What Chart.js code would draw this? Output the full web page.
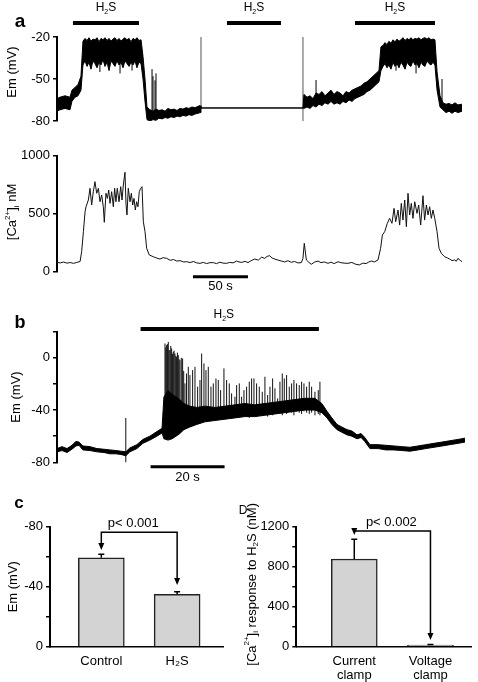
<!DOCTYPE html>
<html>
<head>
<meta charset="utf-8">
<script src="https://cdn.jsdelivr.net/npm/chart.js@4.4.0/dist/chart.umd.min.js"></script>
<style>
body { margin: 0; background: #fff; width: 478px; height: 682px; position: relative; overflow: hidden; }
canvas { position: absolute; }
</style>
</head>
<body>
<canvas id="a1" width="478" height="135" style="left:0;top:0"></canvas>
<canvas id="a2" width="478" height="160" style="left:0;top:135px"></canvas>
<canvas id="b" width="478" height="190" style="left:0;top:295px"></canvas>
<canvas id="c" width="239" height="197" style="left:0;top:485px"></canvas>
<canvas id="d" width="239" height="197" style="left:239px;top:485px"></canvas>
<script>
var FONT = '"Liberation Sans", Arial, Helvetica, sans-serif';

// panel a, membrane potential: time (s), envelope of the trace (mV)
var aT  = [0, 2.7, 7.3, 11.8, 13.6, 16.4, 19.1, 21.8,
  23.6, 25.5, 27.3, 29.1, 30.9, 32.7, 34.5, 36.4, 38.2, 40, 41.8, 43.6, 45.5, 47.3, 49.1, 50.9, 52.7, 54.5, 56.4, 58.2,
  60, 61.8, 63.6, 65.5, 67.3, 69.1, 70.9, 72.7, 74.5, 76.4,
  78.2, 80, 81.8,
  84.5, 87.3, 90, 92.7, 95.5, 98.2, 100.9, 103.6, 106.4, 109.1, 111.8, 114.5, 117.3, 120, 122.7, 125.5, 128.2, 130,
  130.9, 223.6,
  224.5, 227.3, 230, 232.7, 235.5, 238.2, 240.9, 243.6, 246.4, 249.1, 251.8, 254.5, 257.3, 260, 262.7, 265.5, 268.2,
  270.9, 273.6, 276.4, 279.1, 281.8, 284.5, 287.3, 290, 292.7,
  294.5, 296.4, 298.2, 300, 301.8, 303.6, 305.5, 307.3, 309.1, 310.9, 312.7, 314.5, 316.4, 318.2, 320, 321.8, 323.6,
  325.5, 327.3, 329.1, 330.9, 332.7, 334.5, 336.4, 338.2, 340, 341.8,
  343.6, 345.5,
  348.2, 350.9, 353.6, 356.4, 359.1, 361.8, 364.5, 368.2];
var aHi = [-64, -63, -62, -63, -58, -56, -54, -48,
  -23, -21, -22.5, -20.5, -23, -21.5, -22, -20.5, -23.5, -21, -22, -20.5, -22.5, -21, -23, -21.5, -20.5, -22.5, -21, -23,
  -21.5, -20.5, -22, -21, -23.5, -21, -22, -20.5, -22.5, -22,
  -34, -50, -70,
  -72, -73, -71.5, -72.5, -72, -73, -71, -72, -71.5, -72.5, -71, -71.5, -70.5, -71, -70, -70.5, -69.5, -69,
  -70.7, -70.7,
  -61, -63, -62, -64, -60, -61, -59, -62, -60, -58, -61, -59, -60, -62, -59, -60, -58,
  -57, -56, -55, -53, -52, -50, -48, -46, -44,
  -27, -26, -24, -25.5, -23, -24.5, -22, -23.5, -21.5, -23, -22, -20.5, -22.5, -21, -22, -20.5, -22,
  -21, -21.5, -20.5, -22, -21, -20.5, -21.5, -20.5, -22, -21.5,
  -22, -45,
  -62, -67, -68, -67.5, -68.5, -67, -68.5, -68];
var aLo = [-73, -72, -71, -72, -66, -63, -62, -58,
  -40, -37, -41, -38, -43, -37, -39, -42, -38, -40, -36, -41, -38, -44, -37, -39, -41, -37, -40, -38,
  -42, -37, -39, -41, -38, -40, -37, -42, -38, -39,
  -50, -66, -79,
  -80, -79, -79.5, -78, -78.5, -77.5, -78, -77, -77.5, -76.5, -77, -76, -76.5, -75.5, -76, -75, -74.5, -74,
  -70.7, -70.7,
  -71, -70, -71, -69, -70, -68, -69, -67, -68, -66, -68, -67, -68, -66, -67, -65, -66,
  -64, -63, -62, -61, -59, -58, -56, -54, -52,
  -44, -41, -39, -42, -40, -43, -38, -41, -39, -42, -38, -40, -43, -38, -40, -41, -37,
  -40, -39, -42, -38, -40, -41, -37, -39, -40, -38,
  -40, -58,
  -70, -72, -74, -73, -74.5, -73, -74, -73];
var aSpikeT  = [39, 57.3, 68.2, 86.4, 87.3, 89.1, 90, 235.5, 308.2, 326.4, 350];
var aSpikeHi = [-24, -23, -24, -43, -48, -51, -46, -50.7, -25, -24, -50];
var aSpikeLo = [-45, -46, -44, -78, -78, -78, -78, -68, -44, -46, -70];
var aStepT  = [130.9, 223.6];
var aStepHi = [-20, -20];
var aStepLo = [-71, -81];
var aH2S = [[14.5, 74.5], [154.5, 203.6], [270.9, 343.6]];
var aTicks = [-80, -50, -20];

// panel a, calcium: time (s), nM
var caT = [0, 3, 6, 9, 12, 15, 18, 21, 22.4, 24, 25.5, 26.4,
  28.5, 30, 31.5, 33, 34.5, 36.1, 37.6, 39.1, 40.6, 42.1, 43, 44.5, 45.8, 47, 48.2, 49.7, 51.2, 52.4, 53.6, 54.8, 56.4,
  57.9, 59.1, 60.3, 61.8, 62.7, 63.6, 64.8, 66.4, 67.6, 68.8, 70, 71.2, 72.4, 73.6, 74.8, 76.1, 77.3, 78.5, 80, 81.5, 83.9,
  87.6, 90.5, 93.6, 96.5, 99.7, 103, 106, 108.8, 112, 115, 117.9, 121, 124, 127, 130, 133, 136, 139, 142.1, 145, 148, 151,
  154.2, 157, 160, 163.3, 164.5, 168, 171, 173.6, 176.5, 179.7, 183, 186, 188.8, 191, 193.3, 195.5, 197.9, 201, 203.9, 207,
  210, 213, 216, 219, 222.1, 223.6, 224.8, 226.7, 229, 231.2, 234, 237.3, 240, 243, 246.4, 249, 252, 255.5, 258, 261, 264.5,
  268, 271, 274.7, 278, 281, 283.5, 285.8, 288.5, 291.8, 294.2, 295.8, 297.9, 300.3, 302.4, 304.5, 306.4, 307.9, 310, 311.5,
  313, 314.5, 316.1, 317.6, 319.1, 320.6, 322.1, 323.6, 325.2, 327.3, 328.8, 330.6, 332.7, 334.2, 335.8, 337.3, 338.8, 340.3,
  341.8, 343.4, 345.5, 347.3, 349.4, 352.4, 355, 357, 359, 361.5, 363, 364.5, 366.5, 368.2];
var caV = [80, 76, 83, 74, 79, 72, 80, 88, 172, 345, 517, 560,
  618, 719, 575, 690, 776, 676, 719, 603, 661, 560, 426, 676, 632, 704, 589, 690, 560, 719, 603, 719, 603,
  733, 618, 747, 857, 589, 489, 719, 603, 676, 575, 632, 532, 603, 560, 690, 719, 733, 431, 345, 202, 144,
  129, 118, 109, 121, 115, 98, 105, 92, 95, 84, 86, 79, 88, 76, 72, 80, 70, 78, 78, 70, 82, 74,
  72, 80, 76, 92, 86, 80, 90, 78, 95, 109, 100, 125, 115, 132, 138, 118, 109, 100, 92, 84,
  95, 81, 88, 76, 78, 115, 245, 101, 80, 64, 82, 92, 78, 84, 72, 82, 70, 86, 78, 74, 72,
  80, 66, 58, 74, 70, 84, 92, 84, 101, 202, 316, 345, 417, 460, 417, 546, 431, 532, 402,
  589, 445, 618, 388, 676, 489, 589, 460, 603, 503, 575, 402, 655, 445, 575, 489, 560, 460,
  532, 460, 345, 202, 158, 129, 118, 109, 96, 101, 90, 115, 98, 86];
var caTicks = [0, 500, 1000];
var caScaleBar = [123.6, 173.6];

// panel b: time (s), envelope (mV) and spikes
var bT  = [0, 1.35, 2.7, 4.05, 5.1, 5.95, 7, 8.9, 10.8, 12.7, 14.3, 15.9, 17.3, 18.6, 19.7, 21.6, 23.2, 25.1, 27, 28.4,
           28.9, 30, 31.1, 32.2, 33.2, 34.3, 35.9, 37.8, 40, 42.7, 45.4, 48.1, 50.8, 53.5, 56.2, 58.9, 61.6, 64.3, 67, 69.7,
           71.6, 73, 74.3, 75.7, 77, 78.4, 79.7, 81.1, 82.2, 83.2, 84.6, 86.8, 88.9, 91.1, 93.2, 95.4, 97.6, 99.7, 101.9,
           104.1, 106.2, 108.4, 110.3];
var bHi = [-69.5, -68, -69.5, -67, -64, -64.5, -67.5, -68, -69.5, -70, -70.5, -71, -71.5, -72, -69, -66.5, -62.5, -60, -56.5, -54,
           -30, -25, -28, -30, -32, -35, -37, -38, -37, -38, -37, -36, -35, -36, -35, -34, -33, -32, -31, -31,
           -35, -41, -46, -51, -53, -55, -56, -59, -58, -61, -66.5, -66.5, -67, -67.5, -68, -68.5, -67.5, -66.5, -65.5,
           -64.5, -63.5, -62.5, -61.5];
var bLo = [-72, -71, -72.5, -70, -67.5, -67, -70.5, -71, -72, -72.5, -73.5, -73.5, -74, -75, -72, -69.5, -65.5, -63, -60, -57.5,
           -62, -63, -62, -60, -58, -55, -53, -51, -49, -48, -47, -46, -45, -45, -44, -43, -42, -41, -40, -40,
           -42, -46, -51, -55, -57, -59, -60, -62, -61, -64, -69.5, -69.5, -70.5, -70.5, -71, -71.5, -70.5, -69.5, -68.5,
           -67.5, -66.5, -65.5, -64.5];
var bSpikeT = [18.6, 29.19, 29.64, 30.09, 30.54, 30.99, 31.44, 31.89, 32.34, 32.79, 33.24, 33.96,
  34.59, 35.49, 35.94, 36.66, 37.3, 38.02, 38.65, 39.1, 39.73, 40.27,
  40.9, 41.62, 42.25, 42.97, 43.6, 44.23, 45.13, 45.85, 46.57, 47.2,
  48.1, 48.56, 49.28, 49.91, 50.54, 51.26, 51.98, 52.61, 53.24, 53.96,
  54.68, 55.49, 56.21, 56.94, 57.57, 58.29, 58.92, 59.64, 60.27, 60.9,
  61.44, 62.07, 62.79, 63.42, 64.05, 64.77, 65.49, 66.12, 66.76, 67.48,
  68.2, 68.83, 69.73, 70.63, 71.08,
  29.4, 29.85, 30.3, 30.75, 31.2, 31.65, 32.1, 32.55, 33.0, 33.6, 34.25, 35.0];
var bSpikeHi = [-46, 11.0, 9.7, 12.2, 5.9, 7.2, 4.6, 3.3, 0.8, 2.1, -1.8, -0.5,
  -19.6, -6.9, -13.2, -9.4, -6.9, -22.1, -17.0, 3.3, -4.3, -9.4,
  -6.9, -22.1, -19.6, -15.8, -17.0, -24.7, -8.1, -17.0, -19.6, -27.2,
  -29.8, -20.9, -19.6, -29.8, -24.7, -22.1, -18.3, -15.8, -15.8, -19.6,
  -22.1, -26.0, -14.5, -28.5, -22.1, -15.8, -23.4, -31.1, -18.3, -12.0,
  -15.8, -13.2, -22.1, -19.6, -17.0, -19.6, -20.9, -18.3, -19.6, -22.1,
  -18.3, -22.1, -26.0, -24.7, -18.3,
  8, 10.5, 6, 9, 3, 5.5, 1.5, 4, -1, 0, -10, -12];
var bSpikeLo = [-82, -60, -62, -58, -60, -57, -59, -56, -58, -55, -57, -54,
  -52, -50, -49, -51, -48, -47, -50, -46, -48, -47,
  -46, -48, -45, -47, -46, -45, -47, -44, -46, -45,
  -44, -46, -45, -43, -45, -44, -46, -43, -44, -45,
  -43, -44, -42, -45, -43, -44, -42, -43, -41, -44,
  -42, -43, -41, -42, -44, -41, -42, -43, -41, -42,
  -43, -42, -44, -43, -44,
  -61, -59, -62, -58, -60, -57, -59, -56, -57, -55, -54, -52];
var bH2S = [22.6, 70.8];
var bScaleBar = [25.3, 45.3];
var bTicks = [-80, -40, 0];

// panel c
var cCats = ['Control', 'H\u2082S'];
var cMean = [-59.3, -34.9];
var cSem = [2.3, 1.8];
var cTicks = [-80, -40, 0];

// panel D
var dCats = [['Current', 'clamp'], ['Voltage', 'clamp']];
var dMean = [877, 15];
var dSem = [197, 6];
var dTicks = [0, 400, 800, 1200];

Chart.defaults.font.family = FONT;
Chart.defaults.font.size = 13;
Chart.defaults.color = '#000';
Chart.defaults.animation = false;
Chart.defaults.plugins.legend.display = false;
Chart.defaults.plugins.tooltip.enabled = false;
Chart.defaults.elements.point.radius = 0;
Chart.defaults.elements.line.tension = 0;

var H2S = [['H'], ['2', 'sub'], ['S']];

function pts(t, v) { return t.map(function (x, i) { return { x: x, y: v[i] }; }); }
function vsegs(t, lo, hi) {
  var d = [];
  for (var i = 0; i < t.length; i++) d.push({ x: t[i], y: lo[i] }, { x: t[i], y: hi[i] }, { x: t[i], y: null });
  return d;
}
function hsegs(spans, level) {
  var d = [];
  spans.forEach(function (s) { d.push({ x: s[0], y: level }, { x: s[1], y: level }, { x: s[1], y: null }); });
  return d;
}

function fs(r, size, bold) { return (bold ? 'bold ' : '') + (r[1] ? Math.round(size * 0.62) : size) + 'px ' + FONT; }
function rich(ctx, x, y, runs, size, o) {
  o = o || {};
  ctx.save();
  ctx.translate(x, y);
  if (o.rot) ctx.rotate(o.rot);
  ctx.fillStyle = '#000';
  ctx.textBaseline = 'middle';
  ctx.textAlign = 'left';
  var w = 0;
  runs.forEach(function (r) { ctx.font = fs(r, size, o.bold); w += ctx.measureText(r[0]).width; });
  var cx = o.align === 'end' ? -w : -w / 2;
  runs.forEach(function (r) {
    ctx.font = fs(r, size, o.bold);
    var dy = r[1] === 'sup' ? -size * 0.38 : r[1] === 'sub' ? size * 0.32 : 0;
    ctx.fillText(r[0], cx, dy);
    cx += ctx.measureText(r[0]).width;
  });
  ctx.restore();
}
function arrow(ctx, x, y) {
  ctx.beginPath(); ctx.moveTo(x, y); ctx.lineTo(x - 3, y - 7); ctx.lineTo(x + 3, y - 7); ctx.closePath(); ctx.fill();
}
function bracket(ctx, x1, x2, yb, t1, t2) {
  ctx.beginPath();
  ctx.moveTo(x1, t1 - 6); ctx.lineTo(x1, yb); ctx.lineTo(x2, yb); ctx.lineTo(x2, t2 - 6);
  ctx.stroke();
  arrow(ctx, x1, t1); arrow(ctx, x2, t2);
}
function deco(fn) {
  return { id: 'deco', afterDraw: function (ch) {
    var ctx = ch.ctx; ctx.save(); fn(ch, ctx, ch.scales.x, ch.scales.y); ctx.restore();
  } };
}

function yAxis(min, max, step, width, shown, title, tpad, reverse) {
  return {
    type: 'linear', min: min, max: max, reverse: !!reverse,
    afterFit: function (s) { s.width = width; },
    border: { display: true, color: '#000', width: 2 },
    grid: { drawOnChartArea: false, tickLength: 4, color: '#000', lineWidth: 1.5 },
    ticks: { stepSize: step, padding: 3, color: '#000', font: { size: 13 },
      callback: function (v) { return shown.indexOf(v) >= 0 ? String(v) : ''; } },
    title: { display: !!title, text: title || '', color: '#000', font: { size: 13 }, padding: { top: tpad || 0, bottom: 0 } }
  };
}
function xHidden(max) { return { type: 'linear', min: 0, max: max, display: false }; }
function xBars(min, max, cats, height) {
  return {
    type: 'linear', min: min, max: max, offset: false,
    afterBuildTicks: function (s) { s.ticks = [{ value: 1 }, { value: 2 }]; },
    afterFit: function (s) { s.height = height; },
    border: { display: true, color: '#000', width: 1.5 },
    grid: { display: false, drawTicks: false },
    ticks: { padding: 8, color: '#000', font: { size: 13, lineHeight: 1.05 }, maxRotation: 0,
      callback: function (v) { return cats[Math.round(v) - 1]; } }
  };
}

// ---- a: Em trace ----
new Chart(document.getElementById('a1'), {
  type: 'line',
  data: { datasets: [
    { data: pts(aT, aHi), borderColor: '#000', borderWidth: 1, fill: false },
    { data: pts(aT, aLo), borderColor: '#000', borderWidth: 1, backgroundColor: '#000', fill: '-1' },
    { data: vsegs(aSpikeT, aSpikeLo, aSpikeHi), borderColor: '#000', borderWidth: 1, spanGaps: false },
    { data: vsegs(aStepT, aStepLo, aStepHi), borderColor: '#555', borderWidth: 1, spanGaps: false },
    { data: hsegs(aH2S, -10), borderColor: '#000', borderWidth: 4, spanGaps: false, clip: false }
  ] },
  options: {
    responsive: false,
    layout: { padding: { top: 37, bottom: 14, left: 0, right: 3 } },
    scales: { x: xHidden(380), y: yAxis(-80, -20, 30, 57, aTicks, '', 0) }
  },
  plugins: [deco(function (ch, ctx, x) {
    aH2S.forEach(function (s) { rich(ctx, x.getPixelForValue((s[0] + s[1]) / 2), 8, H2S, 12); });
    rich(ctx, 20, 22, [['a']], 19, { bold: true });
    rich(ctx, 12.5, 72, [['Em (mV)']], 13, { rot: -Math.PI / 2 });
  })]
});

// ---- a: calcium trace ----
new Chart(document.getElementById('a2'), {
  type: 'line',
  data: { datasets: [
    { data: pts(caT, caV), borderColor: '#111', borderWidth: 1, fill: false },
    { data: hsegs([caScaleBar], -43), borderColor: '#000', borderWidth: 3, spanGaps: false, clip: false }
  ] },
  options: {
    responsive: false,
    layout: { padding: { top: 20.7, bottom: 23.3, left: 0, right: 3 } },
    scales: { x: xHidden(380), y: yAxis(0, 1000, 500, 57, caTicks, '', 0) }
  },
  plugins: [deco(function (ch, ctx, x) {
    rich(ctx, 12.5, 77, [['[Ca'], ['2+', 'sup'], [']'], ['i', 'sub'], [' nM']], 13, { rot: -Math.PI / 2 });
    rich(ctx, x.getPixelForValue((caScaleBar[0] + caScaleBar[1]) / 2), 151, [['50 s']], 13);
  })]
});

// ---- b ----
new Chart(document.getElementById('b'), {
  type: 'line',
  data: { datasets: [
    { data: pts(bT, bHi), borderColor: '#000', borderWidth: 1, fill: false },
    { data: pts(bT, bLo), borderColor: '#000', borderWidth: 1, backgroundColor: '#000', fill: '-1' },
    { data: vsegs(bSpikeT, bSpikeLo, bSpikeHi), borderColor: '#111', borderWidth: 1, spanGaps: false },
    { data: hsegs([bH2S], 22.1), borderColor: '#000', borderWidth: 4, spanGaps: false, clip: false },
    { data: hsegs([bScaleBar], -83.4), borderColor: '#000', borderWidth: 3, spanGaps: false, clip: false }
  ] },
  options: {
    responsive: false,
    layout: { padding: { top: 36.7, bottom: 22.7, left: 0, right: 3 } },
    scales: { x: xHidden(113), y: yAxis(-80, 20, 20, 57, bTicks, 'Em (mV)', 9) }
  },
  plugins: [deco(function (ch, ctx, x) {
    rich(ctx, x.getPixelForValue((bH2S[0] + bH2S[1]) / 2) - 6, 20, H2S, 12);
    rich(ctx, 20, 28, [['b']], 18, { bold: true });
    rich(ctx, x.getPixelForValue((bScaleBar[0] + bScaleBar[1]) / 2), 182, [['20 s']], 13);
  })]
});

// ---- c ----
new Chart(document.getElementById('c'), {
  type: 'bar',
  data: { datasets: [{
    data: cMean.map(function (v, i) { return { x: i + 1, y: v }; }),
    backgroundColor: '#d3d3d3', borderColor: '#222', borderWidth: 1.5, barThickness: 46
  }] },
  options: {
    responsive: false,
    layout: { padding: { top: 41.7, bottom: 0, left: 0, right: 16 } },
    scales: { x: xBars(0.323, 2.605, cCats, 35.3), y: yAxis(-80, 0, 20, 50, cTicks, 'Em (mV)', 6, true) }
  },
  plugins: [deco(function (ch, ctx, x, y) {
    ctx.strokeStyle = '#000'; ctx.fillStyle = '#000'; ctx.lineWidth = 1.5;
    cMean.forEach(function (m, i) {
      var px = x.getPixelForValue(i + 1), y0 = y.getPixelForValue(m), y1 = y.getPixelForValue(m - cSem[i]);
      ctx.beginPath(); ctx.moveTo(px, y0); ctx.lineTo(px, y1); ctx.moveTo(px - 3, y1); ctx.lineTo(px + 3, y1); ctx.stroke();
    });
    var x1 = x.getPixelForValue(1), x2 = x.getPixelForValue(2);
    bracket(ctx, x1, x2, y.getPixelForValue(-76.3), y.getPixelForValue(-64.5), y.getPixelForValue(-41.1));
    rich(ctx, (x1 + x2) / 2 - 6, 38, [['p< 0.001']], 13);
    rich(ctx, 19, 18, [['c']], 17, { bold: true });
  })]
});

// ---- D ----
new Chart(document.getElementById('d'), {
  type: 'bar',
  data: { datasets: [{
    data: dMean.map(function (v, i) { return { x: i + 1, y: v }; }),
    backgroundColor: '#d3d3d3', borderColor: '#222', borderWidth: 1.5, barThickness: 46
  }] },
  options: {
    responsive: false,
    layout: { padding: { top: 41.7, bottom: 0, left: 0, right: 6.7 } },
    scales: { x: xBars(0.239, 2.536, dCats, 35.3), y: yAxis(0, 1200, 200, 57.3, dTicks, '', 0) }
  },
  plugins: [deco(function (ch, ctx, x, y) {
    ctx.strokeStyle = '#000'; ctx.fillStyle = '#000'; ctx.lineWidth = 1.5;
    dMean.forEach(function (m, i) {
      var px = x.getPixelForValue(i + 1), y0 = y.getPixelForValue(m), y1 = y.getPixelForValue(m + dSem[i]);
      ctx.beginPath(); ctx.moveTo(px, y0); ctx.lineTo(px, y1); ctx.moveTo(px - 3, y1); ctx.lineTo(px + 3, y1); ctx.stroke();
    });
    var x1 = x.getPixelForValue(1), x2 = x.getPixelForValue(2);
    bracket(ctx, x1, x2, y.getPixelForValue(1157), y.getPixelForValue(1117), y.getPixelForValue(67));
    rich(ctx, (x1 + x2) / 2 - 1, 37, [['p< 0.002']], 13);
    rich(ctx, 4, 26, [['D']], 12);
    rich(ctx, 13, 18, [['[Ca'], ['2+', 'sup'], [']'], ['i', 'sub'], [' response to H'], ['2', 'sub'], ['S (nM)']], 13,
      { rot: -Math.PI / 2, align: 'end' });
  })]
});
</script>
</body>
</html>
